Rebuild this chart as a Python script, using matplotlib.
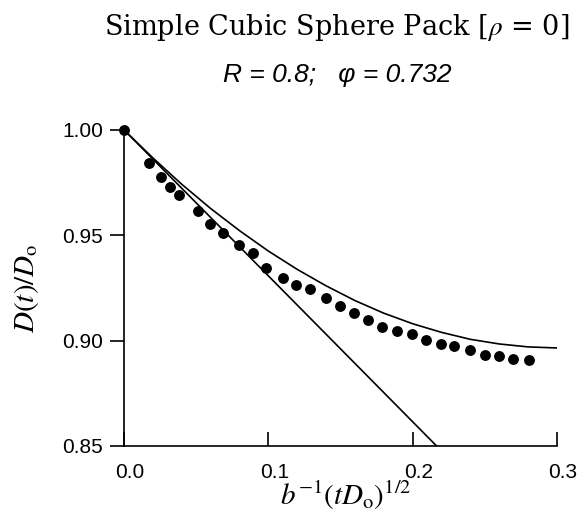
import matplotlib
matplotlib.use('Agg')
import matplotlib.pyplot as plt
import matplotlib.transforms as mtransforms

plt.rcParams['mathtext.fontset'] = 'stix'

# simulated diffusion data (filled circles)
dots_x = [0.0, 0.0176, 0.0257, 0.0322, 0.038, 0.0512, 0.0594, 0.0686, 0.0798,
          0.0891, 0.0984, 0.110, 0.119, 0.129, 0.140, 0.1495, 0.1592, 0.1692,
          0.179, 0.1894, 0.1999, 0.2092, 0.2197, 0.2289, 0.2394, 0.2498,
          0.2596, 0.2696, 0.2805]
dots_y = [1.0, 0.9843, 0.9775, 0.9727, 0.969, 0.9616, 0.9551, 0.9508, 0.9452,
          0.9414, 0.9346, 0.9295, 0.9262, 0.9243, 0.9200, 0.9163, 0.9129, 0.9097,
          0.9066, 0.9044, 0.9032, 0.9005, 0.8986, 0.8973, 0.8957, 0.8933,
          0.8925, 0.8914, 0.8906]

# upper theory curve
curve_x = [0.00, 0.02, 0.04, 0.06, 0.08, 0.10, 0.12, 0.14, 0.16, 0.18,
           0.20, 0.22, 0.24, 0.26, 0.28, 0.30]
curve_y = [1.000, 0.9867, 0.9742, 0.9627, 0.9522, 0.9425, 0.9338, 0.9260,
           0.9190, 0.9130, 0.9080, 0.9039, 0.9006, 0.8984, 0.8970, 0.8965]

# short-time limiting slope
line_x = [0.0, 0.2166]
line_y = [1.0, 0.85]

xticks = [0.0, 0.1, 0.2, 0.3]
xtick_labels = ['0.0', '0.1', '0.2', '0.3']
yticks = [0.85, 0.90, 0.95, 1.00]
ytick_labels = ['0.85', '0.90', '0.95', '1.00']

fig = plt.figure(figsize=(5.79, 5.15), dpi=100)
ax = fig.add_axes([0.214, 0.134, 0.748, 0.614])

ax.plot(curve_x, curve_y, color='k', lw=1.2)
ax.plot(line_x, line_y, color='k', lw=1.2)
ax.plot(dots_x, dots_y, 'o', color='k', ms=6.8, clip_on=False)

ax.set_xlim(0, 0.3)
ax.set_ylim(0.85, 1.0)
for s in ['top', 'right']:
    ax.spines[s].set_visible(False)
for s in ['left', 'bottom']:
    ax.spines[s].set_linewidth(1.2)

tick_font = dict(family='Liberation Sans', size=15)
ax.set_xticks(xticks)
ax.set_xticklabels(xtick_labels, **tick_font)
ax.set_yticks(yticks)
ax.set_yticklabels(ytick_labels, **tick_font)
ax.tick_params(axis='x', direction='in', length=10, width=1.2, pad=12)
ax.tick_params(axis='y', direction='out', length=10, width=1.2, pad=5)

# scanned labels sit a little right of their ticks
shift = mtransforms.ScaledTranslation(6 / 100, 0, fig.dpi_scale_trans)
for lbl in ax.get_xticklabels():
    lbl.set_transform(lbl.get_transform() + shift)

fig.text(0.582, 0.933, r'Simple Cubic Sphere Pack [$\rho$ = 0]',
         family='DejaVu Serif', size=19.5, ha='center', va='baseline')
fig.text(0.582, 0.841, 'R = 0.8;   \u03c6 = 0.732', family='Liberation Sans',
         style='italic', size=19, ha='center', va='baseline')

fig.text(0.045, 0.44, r'$D(t)/D_\mathrm{o}$', size=21, rotation=90,
         ha='center', va='center')
fig.text(0.598, 0.02, r'$b^{-1}(tD_\mathrm{o})^{1/2}$', size=21,
         ha='center', va='baseline')

fig.savefig('out.png', dpi=100)
